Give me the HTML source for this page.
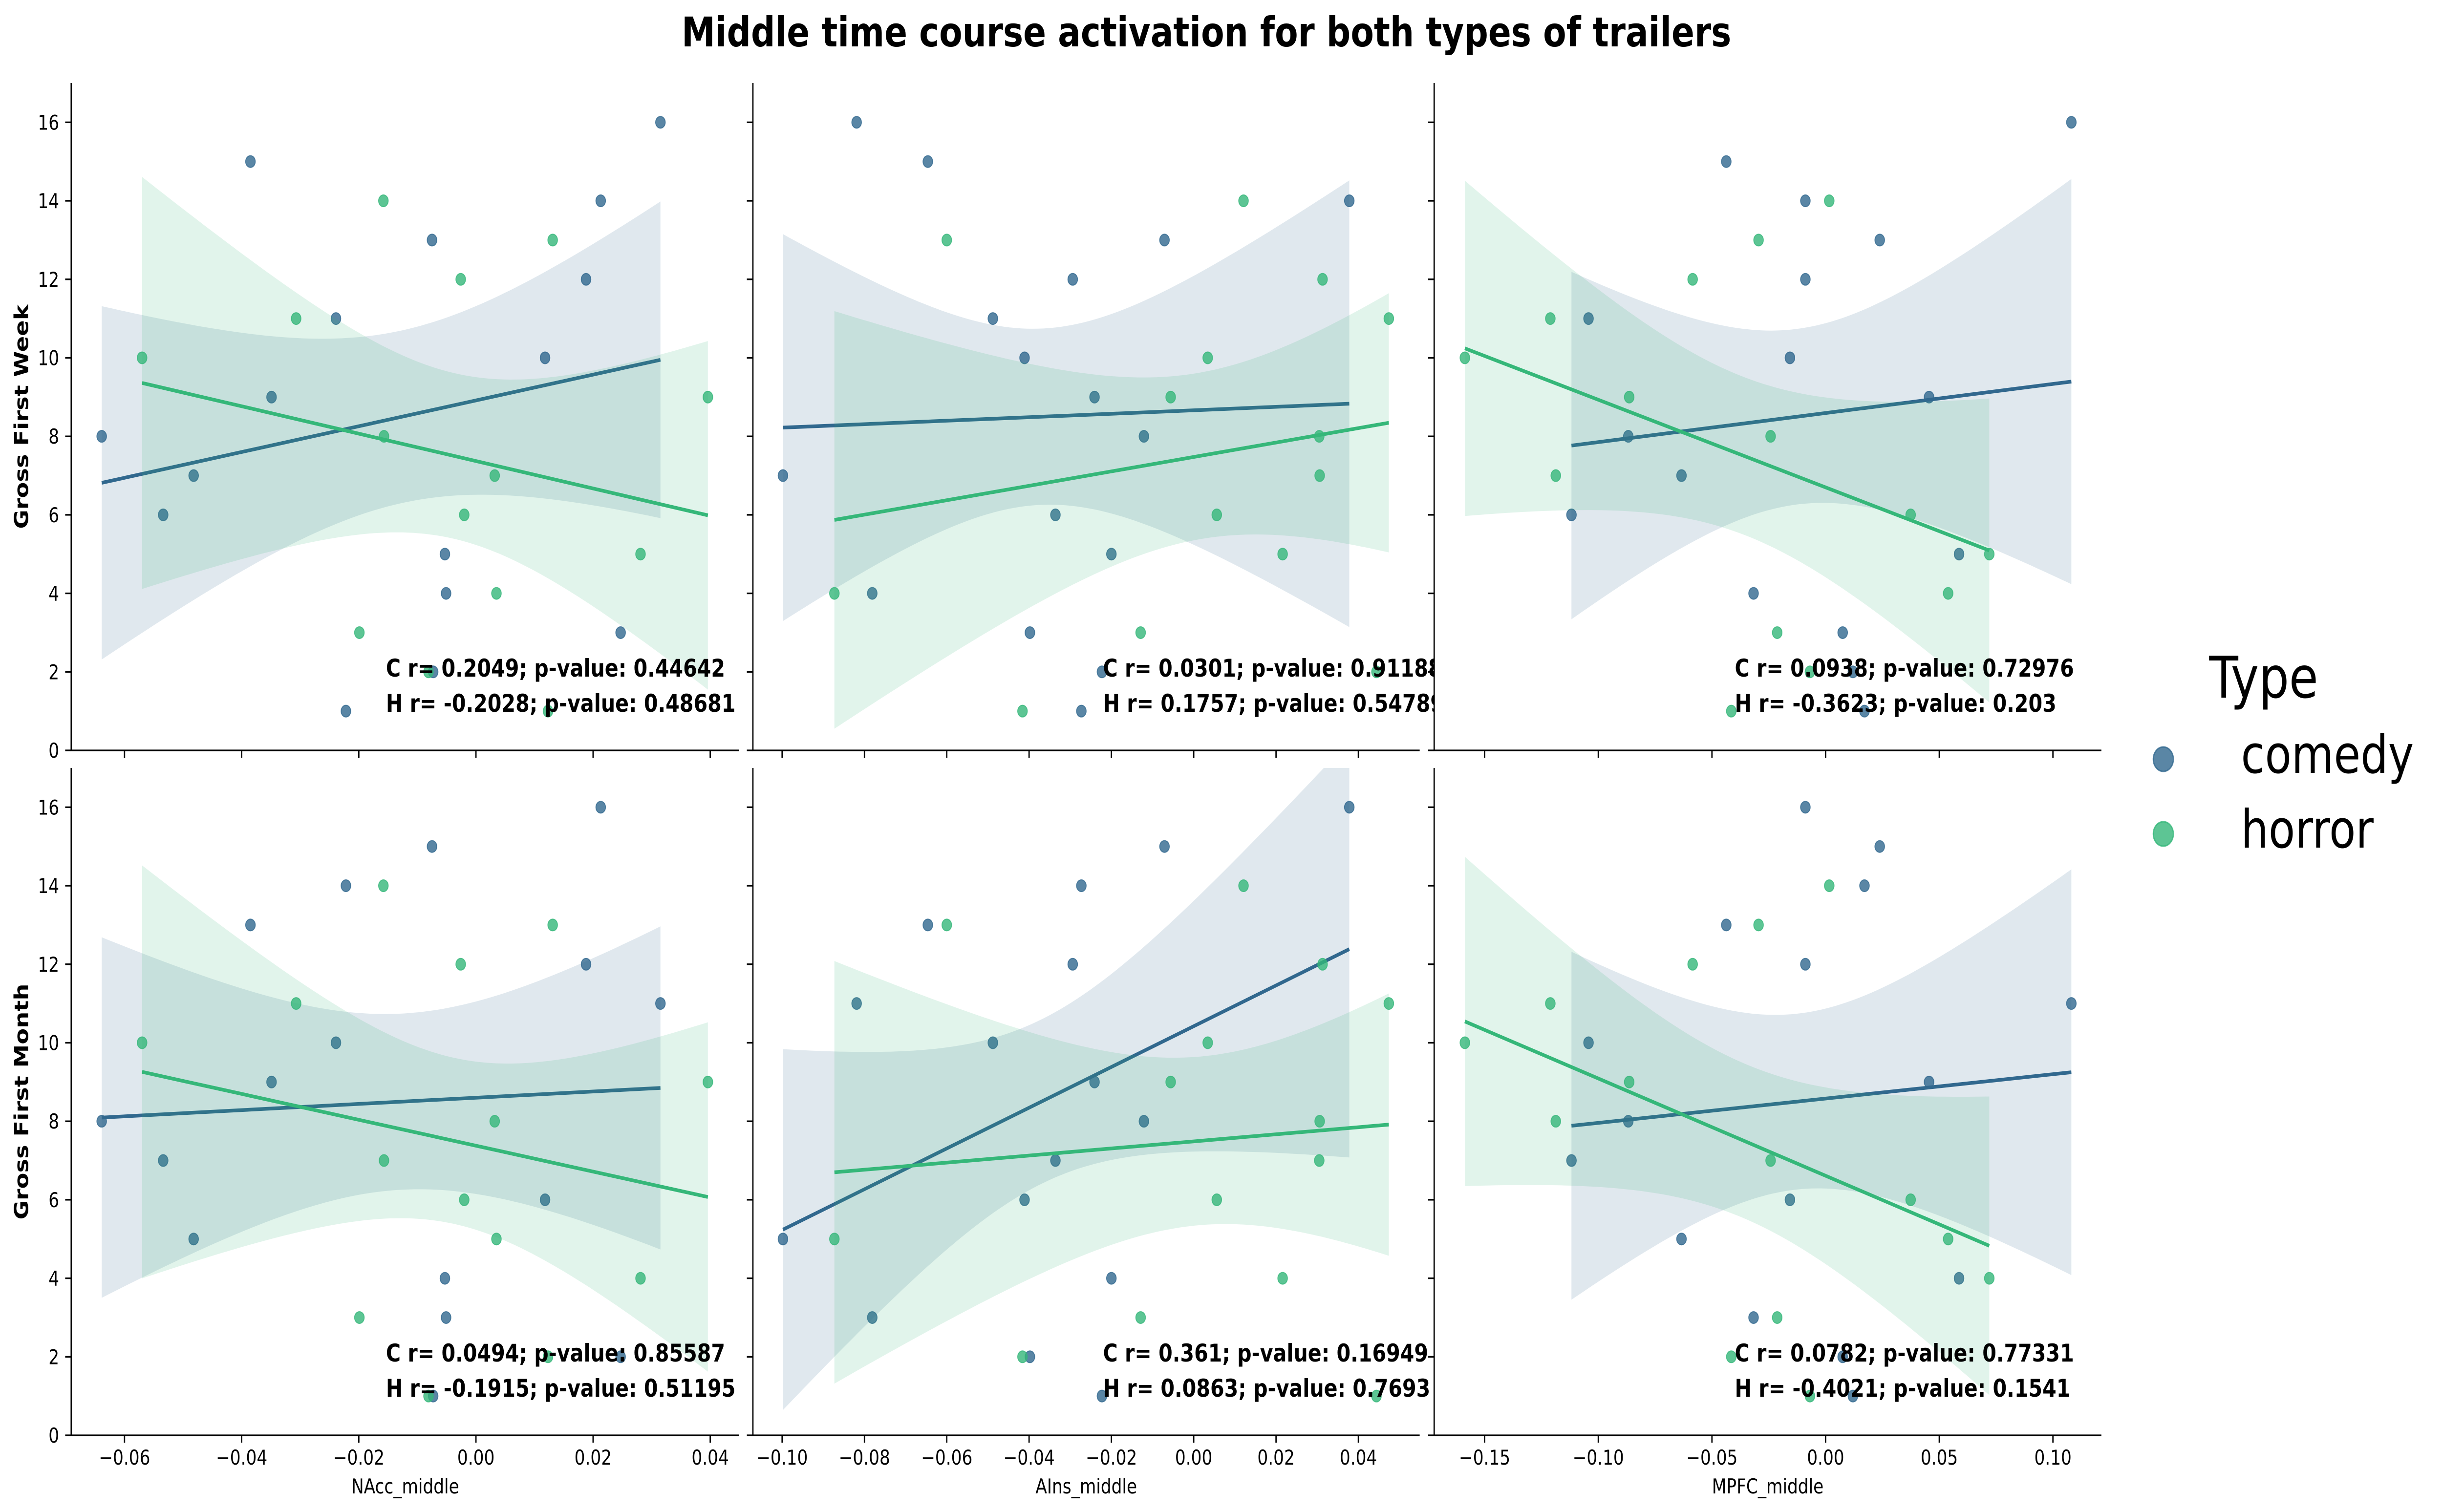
<!DOCTYPE html>
<html><head><meta charset="utf-8">
<style>
html,body{margin:0;padding:0;background:#fff;width:100%;height:100%;overflow:hidden;}
svg{display:block;width:100vw;height:100vh;}
text{font-family:"DejaVu Sans","Liberation Sans",sans-serif;}
</style></head>
<body>
<svg id="fig" xmlns="http://www.w3.org/2000/svg" viewBox="0 0 6071 3095" preserveAspectRatio="none">
<rect x="0" y="0" width="6071" height="3095" fill="#ffffff"/>
<text x="2998" y="95" text-anchor="middle" font-size="84" font-weight="bold" fill="#000">Middle time course activation for both types of trailers</text>
<g>
<text x="5490" y="1428" font-size="118" fill="#000">Type</text>
<circle cx="5376" cy="1554" r="25" fill="#31688e" fill-opacity="0.8" stroke="#31688e" stroke-opacity="0.8" stroke-width="3"/>
<text x="5569" y="1582" font-size="108" fill="#000">comedy</text>
<circle cx="5376" cy="1707" r="25" fill="#35b779" fill-opacity="0.8" stroke="#35b779" stroke-opacity="0.8" stroke-width="3"/>
<text x="5569" y="1735" font-size="108" fill="#000">horror</text>
</g>
<text transform="translate(70,853) rotate(-90)" text-anchor="middle" font-size="48" font-weight="bold" fill="#000">Gross First Week</text>
<text transform="translate(70,2255) rotate(-90)" text-anchor="middle" font-size="48" font-weight="bold" fill="#000">Gross First Month</text>
<g id="panels"></g>
</svg>
<script>
// ---- data (one entry per subject) ----
const comedyWeek  = [8,6,7,15,9,11,1,13,2,5,4,10,12,14,3,16];
const comedyMonth = [8,7,5,13,9,10,14,15,1,4,3,6,12,16,2,11];
const comedyNAcc  = [-0.0639,-0.0534,-0.0482,-0.0385,-0.0349,-0.0239,-0.0222,-0.0075,-0.0073,-0.0053,-0.0051,0.0118,0.0188,0.0213,0.0247,0.0315];
const comedyAIns  = [-0.0121,-0.0336,-0.0998,-0.0646,-0.0241,-0.0488,-0.0273,-0.0071,-0.0223,-0.0200,-0.0781,-0.0411,-0.0294,0.0378,-0.0398,-0.0819];
const comedyMPFC  = [-0.0868,-0.1118,-0.0634,-0.0437,0.0455,-0.1043,0.0171,0.0238,0.0120,0.0587,-0.0317,-0.0157,-0.0089,-0.0089,0.0075,0.1081];
const horrorWeek  = [10,11,3,14,8,2,12,6,7,4,1,13,5,9];
const horrorMonth = [10,11,3,14,7,1,12,6,8,5,2,13,4,9];
const horrorNAcc  = [-0.0570,-0.0307,-0.0199,-0.0158,-0.0157,-0.0081,-0.0026,-0.0020,0.0032,0.0035,0.0123,0.0131,0.0281,0.0396];
const horrorAIns  = [0.0034,0.0474,-0.0129,0.0121,0.0305,0.0444,0.0313,0.0056,0.0306,-0.0873,-0.0416,-0.0600,0.0216,-0.0056];
const horrorMPFC  = [-0.1587,-0.1211,-0.0213,0.0016,-0.0242,-0.0069,-0.0585,0.0374,-0.1187,0.0539,-0.0415,-0.0295,0.0720,-0.0864];
const yTicks = [0,2,4,6,8,10,12,14,16];
const xTicksNAcc = [-0.06,-0.04,-0.02,0.00,0.02,0.04];
const xTicksAIns = [-0.10,-0.08,-0.06,-0.04,-0.02,0.00,0.02,0.04];
const xTicksMPFC = [-0.15,-0.10,-0.05,0.00,0.05,0.10];
const xLabels = ["NAcc_middle","AIns_middle","MPFC_middle"];
const statsComedy = [["C r= 0.2049; p-value: 0.44642","C r= 0.0301; p-value: 0.91188","C r= 0.0938; p-value: 0.72976"],
                     ["C r= 0.0494; p-value: 0.85587","C r= 0.361; p-value: 0.16949","C r= 0.0782; p-value: 0.77331"]];
const statsHorror = [["H r= -0.2028; p-value: 0.48681","H r= 0.1757; p-value: 0.54789","H r= -0.3623; p-value: 0.203"],
                     ["H r= -0.1915; p-value: 0.51195","H r= 0.0863; p-value: 0.7693","H r= -0.4021; p-value: 0.1541"]];

// ---- layout ----
const NS="http://www.w3.org/2000/svg";
const colGeo=[{x0:177,x1:1837,lim:[-0.0691,0.04495],ticks:xTicksNAcc,dec:2,annX:959,cx:comedyNAcc,hx:horrorNAcc},
              {x0:1871,x1:3528,lim:[-0.1071,0.0549],ticks:xTicksAIns,dec:2,annX:2741,cx:comedyAIns,hx:horrorAIns},
              {x0:3564,x1:5222,lim:[-0.1722,0.1213],ticks:xTicksMPFC,dec:2,annX:4311,cx:comedyMPFC,hx:horrorMPFC}];
const rowGeo=[{y0:170,y1:1536,cy:comedyWeek,hy:horrorWeek,name:'week'},
              {y0:1572,y1:2938,cy:comedyMonth,hy:horrorMonth,name:'month'}];
const YMAX=17;
const BLUE="#31688e", GREEN="#35b779";
const CI_SCALE=0.85;

function mk(tag,attrs,parent){const e=document.createElementNS(NS,tag);for(const k in attrs)e.setAttribute(k,attrs[k]);parent.appendChild(e);return e;}
function fmt(v,dec){const s=Math.abs(v).toFixed(dec);return (v<-1e-9?"\u2212":"")+s;}
function tcrit(df){const t={10:2.228,11:2.201,12:2.179,13:2.160,14:2.145,15:2.131,16:2.120};return t[df]||2.1;}

const root=document.getElementById('panels');
const defs=mk('defs',{},root);

rowGeo.forEach((R,ri)=>{
  colGeo.forEach((C,ci)=>{
    const sx=v=>C.x0+(v-C.lim[0])/(C.lim[1]-C.lim[0])*(C.x1-C.x0);
    const sy=v=>R.y1-v/YMAX*(R.y1-R.y0);
    const g=mk('g',{},root);
    
    
    const bg=mk('rect',{x:C.x0,y:R.y0,width:C.x1-C.x0,height:R.y1-R.y0,fill:'#fff'},g);
    
    
    const cid='clip'+ri+ci;
    const cp=mk('clipPath',{id:cid},defs);
    mk('rect',{x:C.x0,y:R.y0,width:C.x1-C.x0,height:R.y1-R.y0},cp);
    const marks=mk('g',{'clip-path':'url(#'+cid+')'},g);
    [[C.cx,R.cy,BLUE,'comedy'],[C.hx,R.hy,GREEN,'horror']].forEach(([xs,ys,col,nm])=>{
      xs.forEach((xv,i)=>{
        const c=mk('circle',{cx:sx(xv),cy:sy(ys[i]),r:12,fill:col,'fill-opacity':0.8,stroke:col,'stroke-opacity':0.8,'stroke-width':2},marks);
        
        
      });
      const n=xs.length;
      const mx=xs.reduce((a,b)=>a+b,0)/n, my=ys.reduce((a,b)=>a+b,0)/n;
      let sxx=0,sxy=0;xs.forEach((xv,i)=>{sxx+=(xv-mx)**2;sxy+=(xv-mx)*(ys[i]-my);});
      const b=sxy/sxx,a=my-b*mx;
      let sse=0;xs.forEach((xv,i)=>{sse+=(ys[i]-a-b*xv)**2;});
      const s=Math.sqrt(sse/(n-2)),t=tcrit(n-2)*CI_SCALE;
      const xmin=Math.min(...xs),xmax=Math.max(...xs);
      const up=[],lo=[];
      for(let k=0;k<=100;k++){
        const xv=xmin+(xmax-xmin)*k/100;
        const yh=a+b*xv;
        const se=s*Math.sqrt(1/n+(xv-mx)**2/sxx);
        up.push(sx(xv).toFixed(1)+','+sy(yh+t*se).toFixed(1));
        lo.unshift(sx(xv).toFixed(1)+','+sy(yh-t*se).toFixed(1));
      }
      const band=mk('polygon',{points:up.concat(lo).join(' '),fill:col,'fill-opacity':0.15,stroke:'none'},marks);
      
      
      const ln=mk('line',{x1:sx(xmin),y1:sy(a+b*xmin),x2:sx(xmax),y2:sy(a+b*xmax),stroke:col,'stroke-width':7.5,'stroke-linecap':'butt'},marks);
      
      
    });
    const sl=mk('line',{x1:C.x0,y1:R.y0,x2:C.x0,y2:R.y1+1.5,stroke:'#000','stroke-width':3.3},g);
    
    
    const sb=mk('line',{x1:C.x0-1.5,y1:R.y1,x2:C.x1,y2:R.y1,stroke:'#000','stroke-width':3.3},g);
    
    
    yTicks.forEach(v=>{
      const tk=mk('line',{x1:C.x0-15,y1:sy(v),x2:C.x0,y2:sy(v),stroke:'#000','stroke-width':3.3},g);
      
      
      if(ci===0){
        const tl=mk('text',{x:C.x0-30,y:sy(v)+15,'text-anchor':'end','font-size':41.7,fill:'#000'},g);
        tl.textContent=String(v);
        
        
      }
    });
    C.ticks.forEach(v=>{
      const tk=mk('line',{x1:sx(v),y1:R.y1,x2:sx(v),y2:R.y1+15,stroke:'#000','stroke-width':3.3},g);
      
      
      if(ri===1){
        const tl=mk('text',{x:sx(v),y:R.y1+60,'text-anchor':'middle','font-size':41.7,fill:'#000'},g);
        tl.textContent=fmt(v,C.dec);
        
        
      }
    });
    if(ri===1){
      const xl=mk('text',{x:(C.x0+C.x1)/2,y:3057,'text-anchor':'middle','font-size':41.7,fill:'#000'},g);
      xl.textContent=xLabels[ci];
      
      
    }
    const a1=mk('text',{x:C.annX,y:R.y1-151,'font-size':50,'font-weight':'bold',fill:'#000'},g);
    a1.textContent=statsComedy[ri][ci];
    
    
    const a2=mk('text',{x:C.annX,y:R.y1-79,'font-size':50,'font-weight':'bold',fill:'#000'},g);
    a2.textContent=statsHorror[ri][ci];
    
    
  });
});
</script>
</body></html>
